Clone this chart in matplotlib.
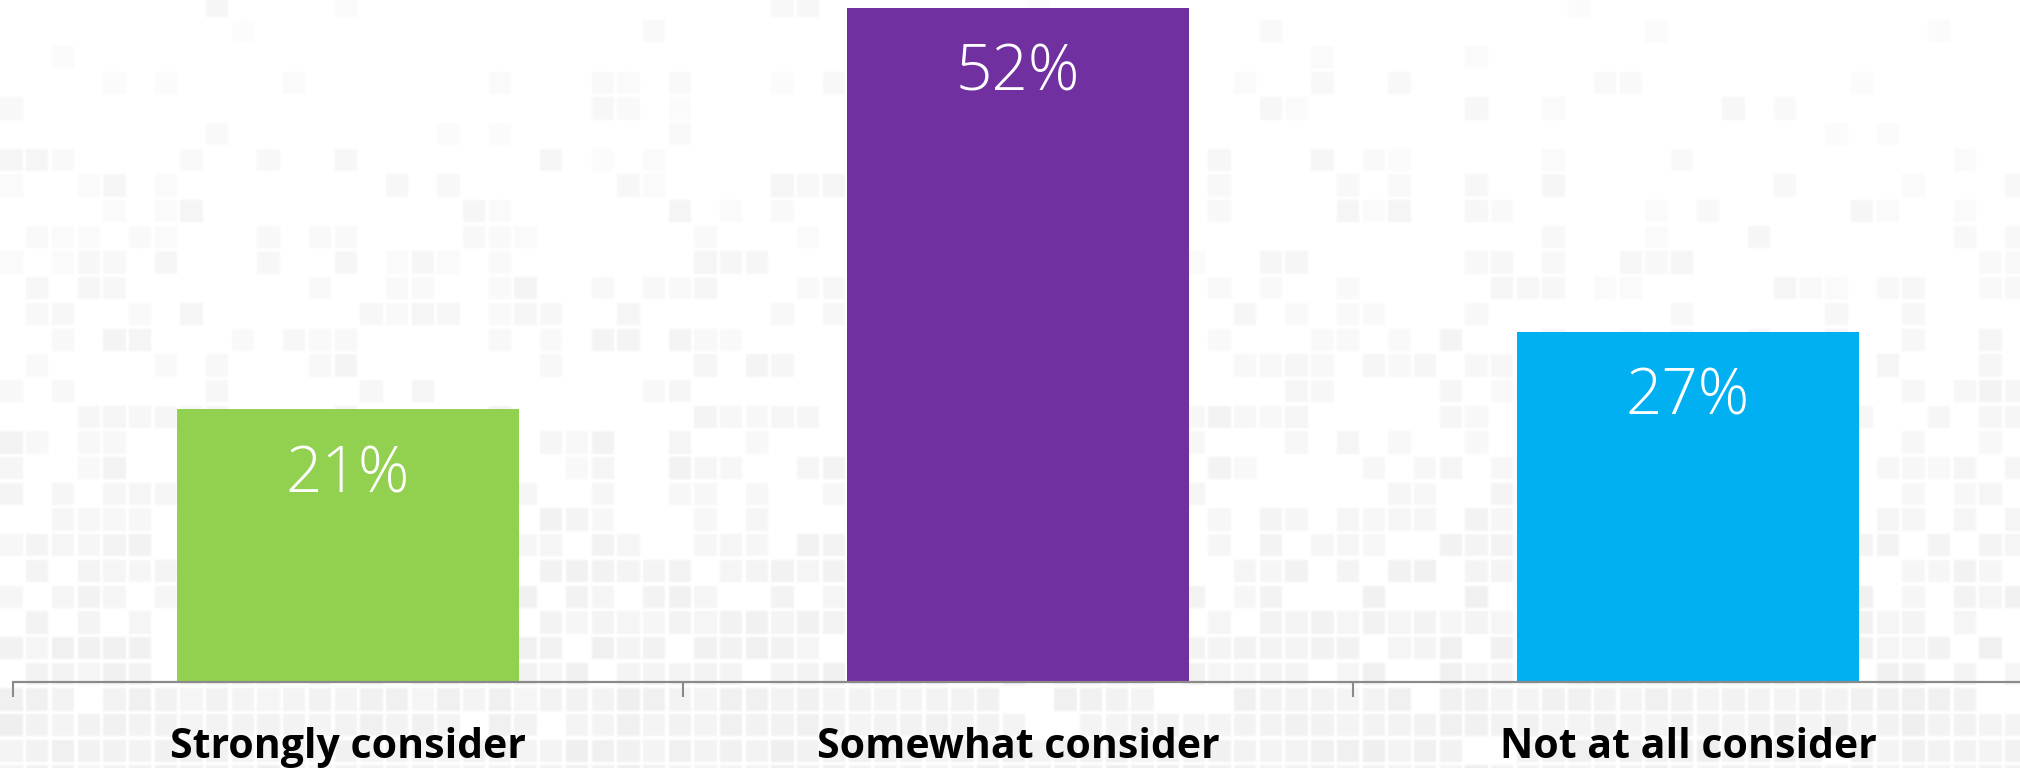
import numpy as np
import matplotlib
matplotlib.use("Agg")
import matplotlib.pyplot as plt

# Survey responses
categories = ["Strongly consider", "Somewhat consider", "Not at all consider"]
shares = [21, 52, 27]
value_labels = ["21%", "52%", "27%"]
bar_colors = ["#92D050", "#7030A0", "#00B0F0"]

W, H, DPI = 2020, 768, 100
fig = plt.figure(figsize=(W / DPI, H / DPI), dpi=DPI)

# --- decorative tiled backdrop: faint grey squares, denser toward the bottom ---
def cell_hash(r, c, k):
    v = np.sin(r * 12.9898 + c * 78.233 + k * 37.719) * 43758.5453
    return v - np.floor(v)

pitch, tile, y0 = 25.7, 22.3, -6.0
ys, xs = np.mgrid[0:H, 0:W].astype(float)
cx = np.floor(xs / pitch)
cy = np.floor((ys - y0) / pitch)
fx = xs - cx * pitch
fy = (ys - y0) - cy * pitch
inside = (fx < tile) & (fy < tile)
t = np.clip((cy * pitch + y0 + tile / 2) / H, 0, 1)
density = 0.10 + 0.90 * t ** 1.5
filled = cell_hash(cy, cx, 1.0) < density
shade = 0.99 - 0.032 * t ** 1.3 - 0.022 * cell_hash(cy, cx, 2.0) ** 1.5
img = np.where(inside & filled, shade, 1.0)

# soften tile edges slightly
pad = np.pad(img, 1, mode="edge")
img = sum(pad[1 + dy:1 + dy + H, 1 + dx:1 + dx + W]
          for dy in (-1, 0, 1) for dx in (-1, 0, 1)) / 9.0
img = np.dstack([img, img, img])

bg = fig.add_axes([0, 0, 1, 1], zorder=0)
bg.imshow(img, aspect="auto", interpolation="nearest", vmin=0, vmax=1)
bg.set_axis_off()

# --- bar chart ---
axis_y = 681.6
ax = fig.add_axes([13 / W, (H - axis_y) / H, 2010 / W, axis_y / H], zorder=1)
ax.set_facecolor("none")
x = np.arange(len(categories))
ax.bar(x, shares, width=0.51, color=bar_colors, zorder=2)
ax.set_xlim(-0.5, len(categories) - 0.5)
ax.set_ylim(0, 52.6)

for xi, v, lab in zip(x, shares, value_labels):
    ax.annotate(lab, xy=(xi, v), xytext=(0, -83 * 72 / DPI), textcoords="offset points",
                ha="center", va="baseline", color="white", fontsize=46,
                family="Open Sans", fontweight="light", zorder=3)

for s in ["top", "right", "left"]:
    ax.spines[s].set_visible(False)
ax.spines["bottom"].set_color("#8a8a8a")
ax.spines["bottom"].set_linewidth(1.6)
ax.set_yticks([])

ax.set_xticks(x)
ax.set_xticklabels(categories, fontsize=29.5, fontweight="bold", family="Open Sans", color="black")
ax.tick_params(axis="x", which="major", length=0, pad=33)
ax.set_xticks(np.arange(-0.5, len(categories)), minor=True)
ax.tick_params(axis="x", which="minor", length=11, width=1.5, color="#8a8a8a", direction="out")

fig.savefig("out.png", dpi=DPI)
